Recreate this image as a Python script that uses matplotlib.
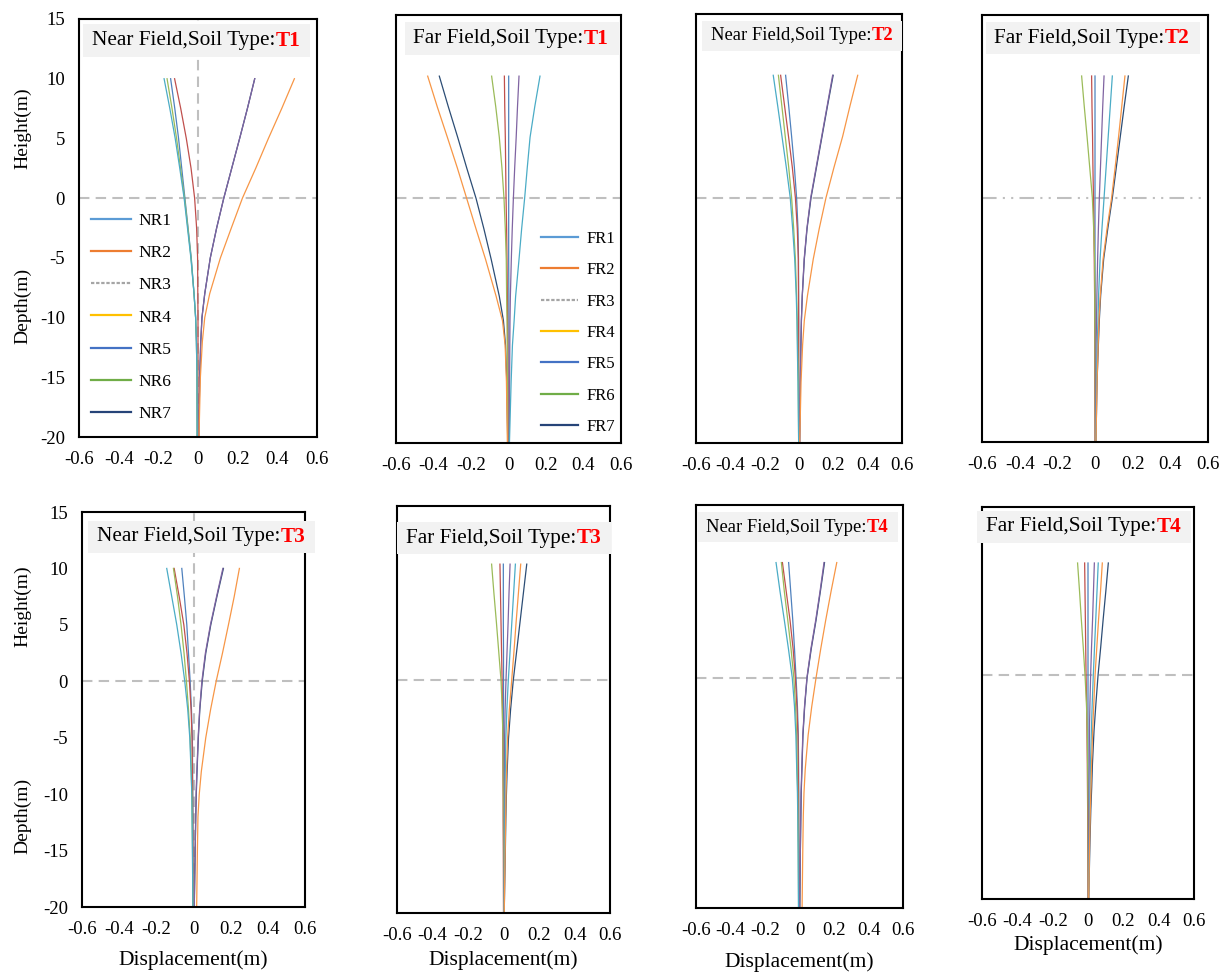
import matplotlib.pyplot as plt
from matplotlib.patches import Rectangle
from matplotlib.lines import Line2D

plt.rcParams['font.family'] = 'serif'
plt.rcParams['font.serif'] = ['Liberation Serif', 'DejaVu Serif']
plt.rcParams['axes.unicode_minus'] = False

# ---------------- data ----------------
elev = [-20, -15, -12, -10, -8, -5, -2.5, 0, 2.5, 5, 7.5, 10]

# series order in every panel: 1..7
nf_t1 = [
    [-0.004, -0.005, -0.008, -0.012, -0.020, -0.034, -0.050, -0.066, -0.082, -0.098, -0.117, -0.138],
    [0.000, 0.000, 0.000, 0.000, -0.001, -0.002, -0.007, -0.017, -0.035, -0.059, -0.087, -0.118],
    [-0.004, -0.005, -0.008, -0.012, -0.020, -0.035, -0.051, -0.068, -0.088, -0.108, -0.131, -0.156],
    [0.004, 0.0085, 0.014, 0.020, 0.034, 0.062, 0.094, 0.130, 0.170, 0.210, 0.249, 0.286],
    [-0.004, -0.005, -0.008, -0.012, -0.020, -0.036, -0.053, -0.070, -0.092, -0.115, -0.142, -0.171],
    [0.005, 0.012, 0.022, 0.034, 0.059, 0.113, 0.168, 0.224, 0.291, 0.355, 0.422, 0.486],
    [0.004, 0.0085, 0.014, 0.020, 0.034, 0.062, 0.094, 0.130, 0.170, 0.210, 0.249, 0.286],
]
ff_t1 = [
    [0.002, 0.002, 0.002, 0.002, 0.002, 0.001, 0.001, 0.001, 0.001, 0.001, 0.001, 0.001],
    [-0.002, -0.003, -0.004, -0.005, -0.006, -0.008, -0.010, -0.013, -0.015, -0.017, -0.020, -0.022],
    [-0.004, -0.006, -0.007, -0.008, -0.010, -0.012, -0.017, -0.024, -0.035, -0.049, -0.068, -0.090],
    [0.004, 0.006, 0.007, 0.008, 0.010, 0.015, 0.020, 0.026, 0.033, 0.041, 0.048, 0.056],
    [0.005, 0.014, 0.021, 0.030, 0.038, 0.056, 0.070, 0.086, 0.100, 0.115, 0.140, 0.168],
    [-0.006, -0.011, -0.018, -0.032, -0.066, -0.122, -0.173, -0.223, -0.273, -0.326, -0.380, -0.431],
    [-0.004, -0.009, -0.016, -0.027, -0.049, -0.092, -0.131, -0.173, -0.223, -0.271, -0.321, -0.369],
]
nf_t2 = [
    [-0.002, -0.002, -0.002, -0.002, -0.002, -0.003, -0.006, -0.014, -0.027, -0.043, -0.060, -0.078],
    [-0.001, -0.001, -0.002, -0.002, -0.003, -0.004, -0.010, -0.021, -0.039, -0.061, -0.084, -0.107],
    [-0.002, -0.004, -0.008, -0.010, -0.014, -0.021, -0.031, -0.043, -0.060, -0.080, -0.100, -0.120],
    [0.004, 0.008, 0.011, 0.014, 0.019, 0.030, 0.046, 0.068, 0.100, 0.132, 0.164, 0.196],
    [-0.002, -0.006, -0.010, -0.012, -0.016, -0.025, -0.037, -0.051, -0.074, -0.099, -0.124, -0.150],
    [0.004, 0.012, 0.021, 0.031, 0.049, 0.083, 0.118, 0.157, 0.204, 0.254, 0.297, 0.342],
    [0.004, 0.008, 0.011, 0.014, 0.019, 0.031, 0.047, 0.070, 0.102, 0.134, 0.166, 0.199],
]
ff_t2 = [
    [0.002, 0.002, 0.001, 0.001, 0.001, 0.000, 0.000, 0.000, 0.000, 0.000, 0.000, 0.000],
    [0.000, -0.001, -0.001, -0.002, -0.002, -0.004, -0.006, -0.008, -0.011, -0.013, -0.016, -0.018],
    [0.002, 0.001, 0.000, -0.001, -0.001, -0.002, -0.007, -0.014, -0.028, -0.042, -0.057, -0.071],
    [0.003, 0.005, 0.006, 0.008, 0.010, 0.014, 0.018, 0.023, 0.029, 0.035, 0.041, 0.048],
    [0.004, 0.008, 0.012, 0.016, 0.019, 0.027, 0.037, 0.048, 0.059, 0.070, 0.081, 0.092],
    [0.005, 0.011, 0.017, 0.021, 0.028, 0.043, 0.064, 0.088, 0.107, 0.125, 0.142, 0.159],
    [0.005, 0.011, 0.018, 0.023, 0.030, 0.046, 0.068, 0.092, 0.113, 0.134, 0.155, 0.177],
]
nf_t3 = [
    [-0.002, -0.003, -0.003, -0.004, -0.005, -0.006, -0.011, -0.018, -0.027, -0.036, -0.049, -0.063],
    [-0.002, -0.003, -0.004, -0.005, -0.006, -0.008, -0.013, -0.022, -0.035, -0.052, -0.077, -0.104],
    [-0.003, -0.005, -0.007, -0.009, -0.012, -0.018, -0.027, -0.038, -0.051, -0.067, -0.086, -0.108],
    [0.004, 0.009, 0.012, 0.014, 0.018, 0.025, 0.033, 0.045, 0.064, 0.091, 0.124, 0.158],
    [-0.003, -0.006, -0.008, -0.009, -0.013, -0.020, -0.031, -0.047, -0.067, -0.090, -0.117, -0.144],
    [0.017, 0.021, 0.024, 0.031, 0.042, 0.066, 0.092, 0.122, 0.156, 0.188, 0.219, 0.247],
    [0.004, 0.009, 0.012, 0.015, 0.019, 0.026, 0.034, 0.047, 0.066, 0.093, 0.126, 0.161],
]
ff_t3 = [
    [0.002, 0.002, 0.001, 0.001, 0.001, 0.000, 0.000, 0.000, 0.000, -0.001, -0.001, -0.001],
    [0.000, -0.001, -0.002, -0.002, -0.003, -0.004, -0.006, -0.008, -0.011, -0.014, -0.017, -0.020],
    [0.002, 0.001, 0.000, -0.001, -0.002, -0.003, -0.007, -0.014, -0.027, -0.040, -0.054, -0.067],
    [0.003, 0.004, 0.004, 0.005, 0.005, 0.006, 0.009, 0.014, 0.020, 0.026, 0.031, 0.037],
    [0.003, 0.006, 0.008, 0.009, 0.010, 0.013, 0.019, 0.027, 0.037, 0.047, 0.057, 0.067],
    [0.004, 0.009, 0.012, 0.014, 0.017, 0.023, 0.033, 0.046, 0.059, 0.071, 0.084, 0.097],
    [0.004, 0.010, 0.013, 0.016, 0.020, 0.028, 0.040, 0.055, 0.074, 0.093, 0.112, 0.131],
]
nf_t4 = [
    [-0.002, -0.003, -0.004, -0.004, -0.005, -0.007, -0.012, -0.020, -0.029, -0.039, -0.051, -0.063],
    [-0.003, -0.004, -0.005, -0.006, -0.007, -0.009, -0.015, -0.024, -0.037, -0.055, -0.077, -0.099],
    [-0.005, -0.007, -0.009, -0.010, -0.013, -0.017, -0.023, -0.033, -0.049, -0.068, -0.088, -0.105],
    [0.001, 0.005, 0.007, 0.009, 0.013, 0.019, 0.029, 0.043, 0.066, 0.094, 0.119, 0.142],
    [-0.006, -0.008, -0.010, -0.012, -0.016, -0.021, -0.029, -0.042, -0.064, -0.088, -0.113, -0.136],
    [0.015, 0.019, 0.022, 0.026, 0.033, 0.050, 0.071, 0.096, 0.123, 0.152, 0.183, 0.216],
    [0.002, 0.005, 0.008, 0.010, 0.014, 0.020, 0.030, 0.044, 0.068, 0.096, 0.121, 0.145],
]
ff_t4 = [
    [0.002, 0.001, 0.001, 0.001, 0.000, 0.000, 0.000, 0.000, 0.000, 0.000, 0.000, 0.000],
    [0.000, -0.001, -0.002, -0.003, -0.004, -0.006, -0.008, -0.011, -0.013, -0.015, -0.017, -0.019],
    [0.002, 0.001, 0.000, -0.001, -0.002, -0.004, -0.009, -0.017, -0.027, -0.038, -0.048, -0.059],
    [0.003, 0.004, 0.005, 0.006, 0.007, 0.008, 0.011, 0.015, 0.020, 0.026, 0.031, 0.036],
    [0.003, 0.007, 0.010, 0.012, 0.014, 0.019, 0.024, 0.030, 0.037, 0.044, 0.051, 0.058],
    [0.004, 0.009, 0.013, 0.017, 0.020, 0.026, 0.033, 0.040, 0.050, 0.060, 0.071, 0.081],
    [0.004, 0.011, 0.016, 0.021, 0.025, 0.034, 0.045, 0.057, 0.072, 0.086, 0.101, 0.115],
]

x_ticks = [-0.6, -0.4, -0.2, 0, 0.2, 0.4, 0.6]
x_tick_labels = ['-0.6', '-0.4', '-0.2', '0', '0.2', '0.4', '0.6']
y_ticks = [-20, -15, -10, -5, 0, 5, 10, 15]
y_tick_labels = ['-20', '-15', '-10', '-5', '0', '5', '10', '15']

nr_labels = ['NR1', 'NR2', 'NR3', 'NR4', 'NR5', 'NR6', 'NR7']
fr_labels = ['FR1', 'FR2', 'FR3', 'FR4', 'FR5', 'FR6', 'FR7']

# colours of the curves (old excel palette) and of the legend (new palette)
line_colors = ['#4F81BD', '#C0504D', '#9BBB59', '#8064A2', '#4BACC6', '#F79646', '#2C4D75']
legend_colors = ['#5B9BD5', '#ED7D31', '#A5A5A5', '#FFC000', '#4472C4', '#70AD47', '#264478']

# ---------------- layout (pixels) ----------------
W, H = 1223, 972
fig = plt.figure(figsize=(W / 100, H / 100), dpi=100)


def fx(x):
    return x / W


def fy(y):
    return 1 - y / H


panels = [
    # data, field, soil, axes box (l, t, r, b), title box (l, t, r, b), text x, text y, font
    (nf_t1, 'Near', 'T1', (79, 19, 317, 437), (83, 24, 310, 57), 92, 40.5, 15.3),
    (ff_t1, 'Far', 'T1', (396, 15, 621, 443), (405, 22, 619, 55), 413, 38.5, 15.3),
    (nf_t2, 'Near', 'T2', (696, 14, 902, 443), (702, 21, 902, 51), 711, 36, 13.4),
    (ff_t2, 'Far', 'T2', (982, 15, 1208, 442), (986, 22, 1200, 54), 994, 38, 15.3),
    (nf_t3, 'Near', 'T3', (82, 512, 305, 907), (88, 521, 315, 553), 97, 537, 15.3),
    (ff_t3, 'Far', 'T3', (397, 506, 610, 913), (397, 522, 611, 554), 406, 538, 15.3),
    (nf_t4, 'Near', 'T4', (696, 505, 903, 908), (697, 512, 898, 542), 706, 527, 13.4),
    (ff_t4, 'Far', 'T4', (982, 507, 1194, 899), (977, 511, 1191, 543), 986, 527, 15.3),
]

# navy drawn first so that it hides under the purple curve where they coincide
draw_order = [6, 0, 1, 2, 3, 4, 5]

axes = []
for i, (data, field, soil, ab, tb, tx, ty, tfs) in enumerate(panels):
    l, t, r, b = ab
    ax = fig.add_axes([fx(l), fy(b), (r - l) / W, (b - t) / H])
    axes.append(ax)

    for k in draw_order:
        ax.plot(data[k], elev, color=line_colors[k], lw=0.9)

    if i == 3:
        ax.axhline(0, color='#BFBFBF', lw=1.5, ls=(0, (7, 3, 1, 3, 1, 3)), zorder=0)
    else:
        ax.axhline(0, color='#BFBFBF', lw=1.5, ls=(0, (5, 3)), zorder=0)
    if i in (0, 4):
        ax.axvline(0, color='#BFBFBF', lw=1.5, ls=(0, (5, 3)), zorder=0)

    ax.set_xlim(-0.6, 0.6)
    ax.set_ylim(-20, 15)
    ax.set_xticks(x_ticks)
    ax.set_xticklabels(x_tick_labels, fontsize=13.5)
    ax.set_yticks(y_ticks)
    if i in (0, 4):
        ax.set_yticklabels(y_tick_labels, fontsize=13.5)
    else:
        ax.set_yticklabels([])
    ax.tick_params(length=0, pad=10)
    for sp in ax.spines.values():
        sp.set_linewidth(1.5)
        sp.set_color('black')

    # title box
    fig.add_artist(Rectangle((fx(tb[0]), fy(tb[3])), (tb[2] - tb[0]) / W, (tb[3] - tb[1]) / H,
                             transform=fig.transFigure, facecolor='#F2F2F2', edgecolor='none', zorder=2))
    t1 = fig.text(fx(tx), fy(ty), field + ' Field,Soil Type:', fontsize=tfs,
                  ha='left', va='center', color='black', zorder=3)
    fig.add_artist(plt.Annotation(soil, xy=(1, 0.5), xycoords=t1, ha='left', va='center',
                                  fontsize=tfs, color='red', fontweight='bold', zorder=3))

# y axis labels (left column)
for hy, dy in [(128, 306), (606, 816)]:
    fig.text(fx(23), fy(hy), 'Height(m)', rotation=90, fontsize=14, ha='center', va='center')
    fig.text(fx(23), fy(dy), 'Depth(m)', rotation=90, fontsize=14, ha='center', va='center')

# x axis labels (bottom row)
for lx, ly in [(193, 960), (503, 960), (799, 962), (1088, 945)]:
    fig.text(fx(lx), fy(ly), 'Displacement(m)', fontsize=15.5, ha='center', va='center')


# legends
def make_handles():
    hs = []
    for k, c in enumerate(legend_colors):
        ls = (0, (1.5, 0.8)) if k == 2 else '-'
        hs.append(Line2D([], [], color=c, lw=1.6, ls=ls))
    return hs


axes[0].legend(make_handles(), nr_labels, loc='upper left', bbox_to_anchor=(fx(91), fy(213)),
               bbox_transform=fig.transFigure, frameon=False, fontsize=12.5, borderpad=0,
               borderaxespad=0, handlelength=2.3, handletextpad=0.45, labelspacing=0.92)
axes[1].legend(make_handles(), fr_labels, loc='upper left', bbox_to_anchor=(fx(541), fy(231)),
               bbox_transform=fig.transFigure, frameon=False, fontsize=12, borderpad=0,
               borderaxespad=0, handlelength=2.2, handletextpad=0.55, labelspacing=0.92)

plt.savefig('out.png', dpi=100)
